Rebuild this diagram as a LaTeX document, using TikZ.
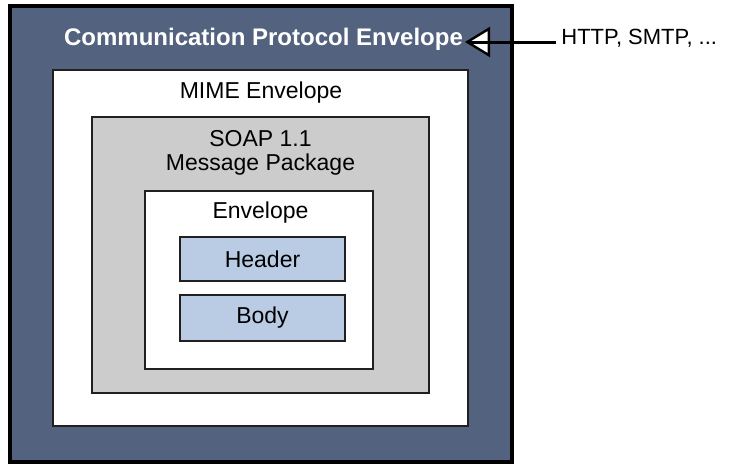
\documentclass[tikz,border=0pt]{standalone}
\usepackage{fontspec}
\setmainfont{Liberation Sans}
\usepackage{tikz}
\usetikzlibrary{arrows.meta}
\definecolor{slate}{RGB}{83,98,126}
\definecolor{soapgray}{RGB}{204,204,204}
\definecolor{partblue}{RGB}{185,204,228}
\definecolor{edgegray}{RGB}{35,31,32}

\begin{document}
\begin{tikzpicture}[x=0.5pt,y=-0.5pt,
		box/.style={draw=edgegray, line width=1pt, inner sep=0pt, outer sep=0pt},
		part/.style={box, fill=partblue, minimum width=82.5pt, font=\fontsize{11.5}{14}\selectfont},
		lbl/.style={inner sep=0pt, anchor=base, font=\fontsize{11.5}{14}\selectfont},
		link/.style={draw=black, line width=1.5pt, -{Triangle[open, fill=white, length=12.5pt, width=15pt, line width=1.2pt]}}
	]
		\useasboundingbox (0,0) rectangle (730,466);

		\node[box, draw=black, line width=2pt, fill=slate, minimum width=251pt, minimum height=228pt] (proto) at (261,234) {};
		\node[box, fill=white, minimum width=207.5pt, minimum height=178pt] (mime) at (260.5,248) {};
		\node[box, fill=soapgray, minimum width=168.5pt, minimum height=138pt] (soap) at (260.5,255) {};
		\node[box, fill=white, minimum width=114pt, minimum height=89pt] (env) at (259,280) {};
		\node[part, minimum height=22pt] (header) at (262.5,259) {Header};
		\node[part, minimum height=23pt] (body) at (262.5,318) {Body};

		\node[lbl, text=white, font=\bfseries\fontsize{12}{14}\selectfont] (comm) at (263.5,46) {Communication Protocol Envelope};
		\node[lbl] (mimelbl) at (261,98) {MIME Envelope};
		\node[lbl] (soaplbl) at (260.5,147) {SOAP 1.1};
		\node[lbl] (pkglbl) at (260.5,170) {Message Package};
		\node[lbl] (envlbl) at (260.5,218) {Envelope};
		\node[lbl, anchor=base west, font=\fontsize{11}{14}\selectfont] (http) at (561,45) {HTTP, SMTP, ...};

		\coordinate (headend) at (465,42);
		\coordinate (tailend) at (556,42);
		\draw[link] (tailend) -- (headend);
		\draw[draw=black, line width=1.5pt, shorten >=1.5pt] (tailend) -- (headend);
\end{tikzpicture}
\end{document}
